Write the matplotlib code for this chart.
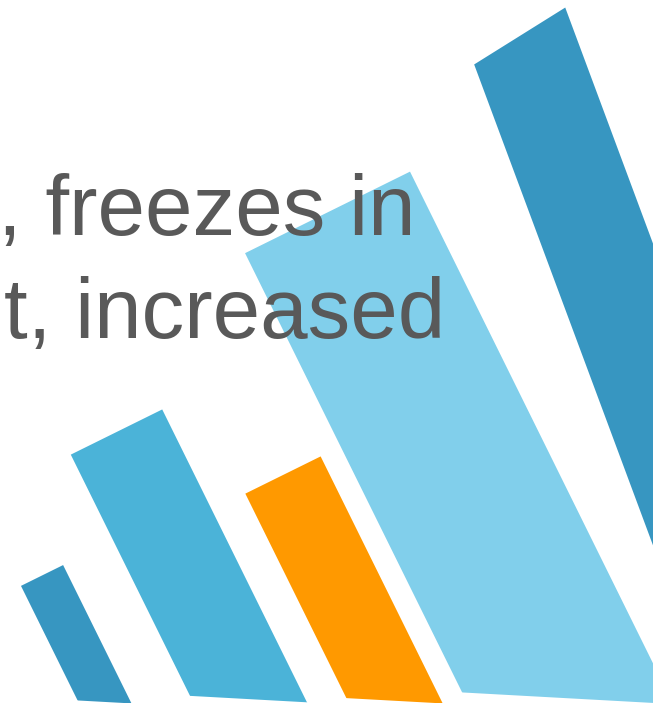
import matplotlib.pyplot as plt
import numpy as np
from matplotlib.transforms import Affine2D
from matplotlib.patches import Polygon

# short bars, left to right (units along the tilted chart frame)
bar_left = [70.7, 173.5, 312.7, 419.0]
bar_width = [47, 102, 84, 184]
bar_top = [95.7, 191.3, 79.0, 294.7]
bar_base = [-32.1, -77.8, -149.1, -195.3]
bar_colors = ['#3796C1', '#4BB3D8', '#FF9900', '#81CFEB']

# tall bar on the right (own frame, leans less)
tall_left = 667.0
tall_width = 105.2
tall_top = 296.3
tall_color = '#3796C1'

text_lines = [', freezes in', 't, increased']

fig = plt.figure(figsize=(6.65, 7.03), dpi=100)
ax = fig.add_axes([0, 0, 653 / 665, 1])
ax.axis('off')

tilt = 26.3
floor_tilt = -3.15
rot = Affine2D().rotate_deg(tilt)

for left, w, top, base, c in zip(bar_left, bar_width, bar_top, bar_base, bar_colors):
    bars = ax.bar(left, top - base + 200, width=w, bottom=base - 200, align='edge',
                  color=c, linewidth=0, transform=rot + ax.transData, zorder=2)
    # cut the foot of the bar along a nearly flat floor line
    cx, cy = rot.transform((left, base))
    d = np.array([np.cos(np.radians(floor_tilt)), np.sin(np.radians(floor_tilt))])
    p0 = np.array([cx, cy]) - 400 * d
    p1 = np.array([cx, cy]) + 600 * d
    clip = Polygon([p0, p1, p1 + [0, 2000], p0 + [0, 2000]], closed=True,
                   transform=ax.transData)
    for b in bars:
        b.set_clip_path(clip)

tall_tr = Affine2D().skew_deg(0, 11.6).rotate_deg(20.4)
ax.bar(tall_left, tall_top + 400, width=tall_width, bottom=-400, align='edge',
       color=tall_color, linewidth=0, transform=tall_tr + ax.transData, zorder=2)

ax.text(415, 468, text_lines[0], ha='right', va='baseline', fontsize=61.5,
        family='Liberation Sans', color='#595959', zorder=5)
ax.text(445, 365, text_lines[1], ha='right', va='baseline', fontsize=61.5,
        family='Liberation Sans', color='#595959', zorder=5)

ax.set_xlim(0, 653)
ax.set_ylim(0, 703)

plt.savefig('out.png', dpi=100)
